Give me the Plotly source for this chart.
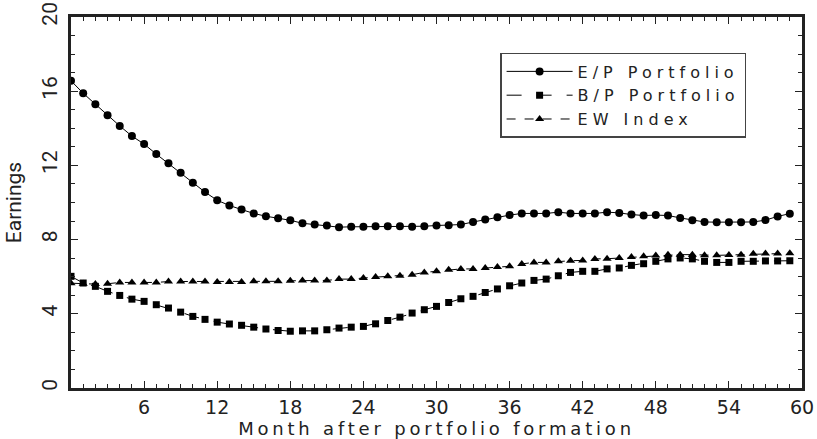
import plotly.graph_objects as go

months = list(range(60))

ep_portfolio = [16.56, 15.89, 15.30, 14.70, 14.13, 13.58, 13.15, 12.61, 12.11, 11.60,
                11.06, 10.56, 10.12, 9.84, 9.62, 9.41, 9.26, 9.15, 9.04, 8.88,
                8.81, 8.76, 8.67, 8.69, 8.69, 8.72, 8.72, 8.72, 8.69, 8.72,
                8.76, 8.77, 8.81, 8.95, 9.08, 9.21, 9.32, 9.41, 9.41, 9.41,
                9.48, 9.41, 9.41, 9.41, 9.48, 9.44, 9.35, 9.30, 9.32, 9.30,
                9.17, 9.04, 8.95, 8.94, 8.94, 8.94, 8.95, 9.05, 9.25, 9.40]

bp_portfolio = [6.02, 5.66, 5.48, 5.21, 4.99, 4.79, 4.67, 4.49, 4.31, 4.09,
                3.86, 3.70, 3.55, 3.45, 3.38, 3.28, 3.18, 3.10, 3.06, 3.08,
                3.08, 3.14, 3.23, 3.28, 3.32, 3.46, 3.64, 3.82, 4.04, 4.22,
                4.40, 4.61, 4.81, 4.94, 5.15, 5.34, 5.51, 5.66, 5.80, 5.87,
                6.05, 6.23, 6.29, 6.29, 6.42, 6.47, 6.61, 6.70, 6.83, 6.96,
                7.01, 6.96, 6.83, 6.77, 6.77, 6.83, 6.83, 6.85, 6.85, 6.86]

ew_index = [5.65, 5.62, 5.60, 5.62, 5.69, 5.69, 5.69, 5.69, 5.74, 5.74,
            5.74, 5.74, 5.72, 5.72, 5.72, 5.75, 5.75, 5.75, 5.78, 5.80,
            5.80, 5.80, 5.87, 5.87, 5.93, 5.98, 6.02, 6.05, 6.11, 6.23,
            6.29, 6.38, 6.42, 6.42, 6.47, 6.52, 6.56, 6.69, 6.77, 6.77,
            6.83, 6.86, 6.88, 6.96, 6.97, 7.01, 7.06, 7.10, 7.14, 7.19,
            7.19, 7.19, 7.15, 7.15, 7.17, 7.19, 7.24, 7.25, 7.25, 7.26]

series_names = ["E/P Portfolio", "B/P Portfolio", "EW Index"]
x_ticks = [6, 12, 18, 24, 30, 36, 42, 48, 54, 60]
y_ticks = [0, 4, 8, 12, 16, 20]
x_title = "Month after portfolio formation"
y_title = "Earnings"

wide_font = "DejaVu Sans"
narrow_font = "Liberation Sans Narrow, Roboto, sans-serif"
ink = "#222"


def spaced(text, px):
    return "<span style='letter-spacing:%spx'>%s</span>" % (px, text)


fig = go.Figure()
styles = [("circle", 8, "solid"), ("square", 7, "longdash"), ("triangle-up", 8, "dash")]
for name, values, (sym, size, dash) in zip(series_names, [ep_portfolio, bp_portfolio, ew_index], styles):
    fig.add_trace(go.Scatter(x=months, y=values, name=spaced(name, 5), mode="lines+markers",
                             line=dict(color="black", width=1.0, dash=dash),
                             marker=dict(symbol=sym, size=size, color="black")))

fig.update_layout(
    width=817, height=439,
    margin=dict(l=71, r=15, t=17, b=51),
    paper_bgcolor="white", plot_bgcolor="white",
    showlegend=True,
    legend=dict(x=0.587, y=0.903, xanchor="left", yanchor="top",
                bordercolor="#444", borderwidth=1.5, bgcolor="white",
                font=dict(family=wide_font, size=16, color=ink),
                tracegroupgap=0, itemwidth=66),
)
fig.update_xaxes(
    range=[0, 60], tickvals=x_ticks, ticktext=[str(v) for v in x_ticks],
    ticks="inside", ticklen=7, tickwidth=1.2, tickcolor=ink,
    showline=True, linecolor=ink, linewidth=2.5, mirror="ticks",
    showgrid=False, zeroline=False, automargin=False, ticklabeloverflow="allow",
    minor=dict(dtick=1, tick0=0, ticks="inside", ticklen=4, tickwidth=1, tickcolor=ink),
    tickfont=dict(family=wide_font, size=19, color=ink),
    title=dict(text=spaced(x_title, 3.8), standoff=3,
               font=dict(family=wide_font, size=18, color=ink)),
)
fig.update_yaxes(
    range=[0, 20], tickvals=y_ticks, ticktext=[str(v) for v in y_ticks],
    ticks="inside", ticklen=7, tickwidth=1.2, tickcolor=ink,
    showline=True, linecolor=ink, linewidth=2.5, mirror="ticks",
    showgrid=False, zeroline=False, tickangle=-90, automargin=False,
    minor=dict(dtick=1, tick0=0, ticks="inside", ticklen=4, tickwidth=1, tickcolor=ink),
    tickfont=dict(family=narrow_font, size=21, color=ink),
    ticklabelstandoff=3,
    title=dict(text=y_title, standoff=11,
               font=dict(family=narrow_font, size=21, color=ink)),
)

fig.write_html("out.html", config={"displayModeBar": False},
               post_script="document.body.style.margin='0';")
